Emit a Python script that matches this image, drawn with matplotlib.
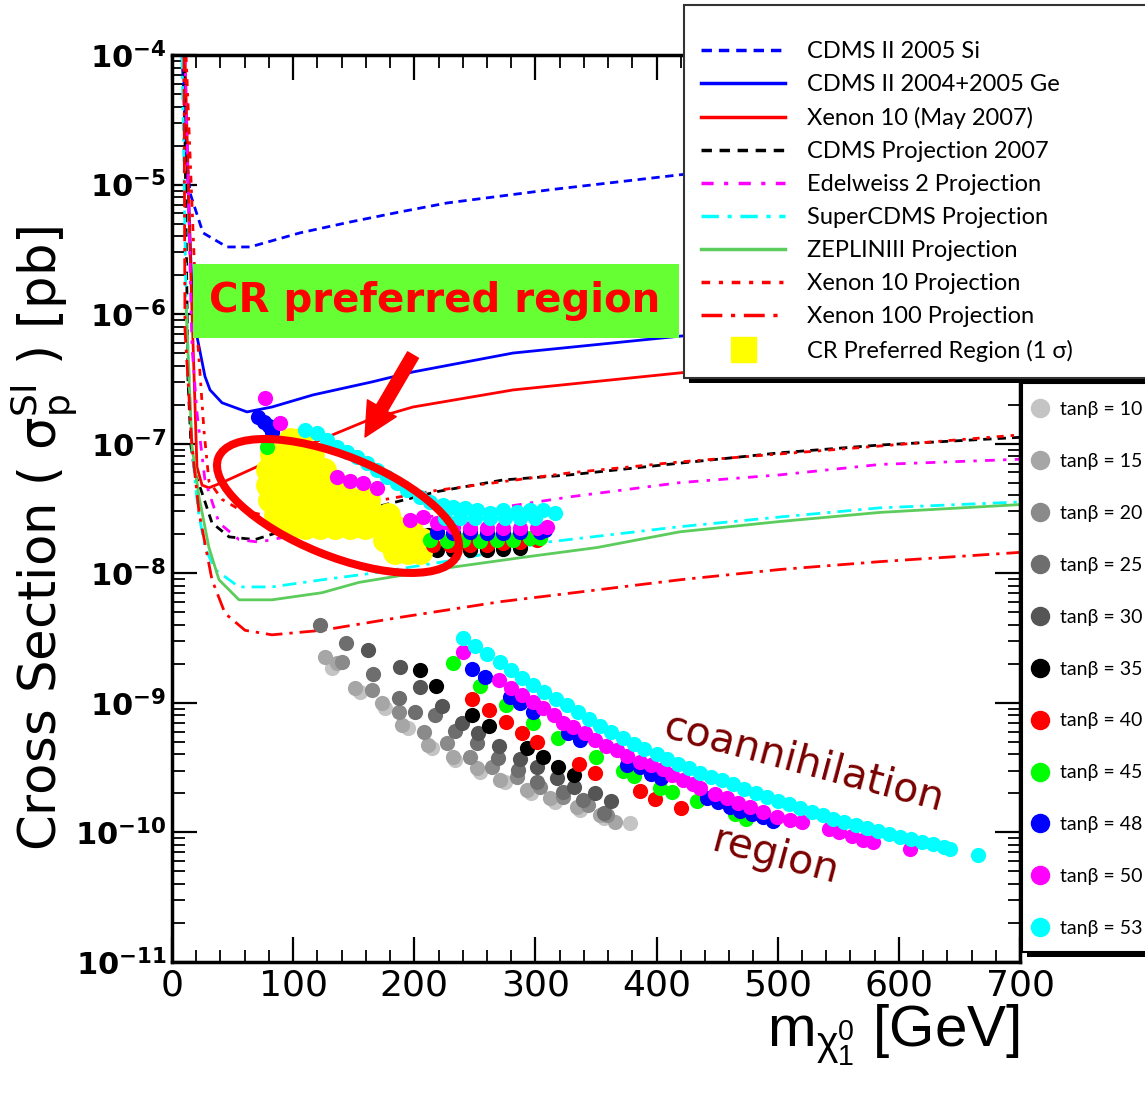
import numpy as np
import matplotlib.pyplot as plt
from matplotlib.lines import Line2D
from matplotlib.patches import Rectangle, Ellipse
from matplotlib.ticker import FuncFormatter, FixedLocator, MultipleLocator, NullFormatter
from matplotlib.transforms import ScaledTranslation

# ===== limit / projection curves: neutralino mass [GeV] vs sigma_SI [pb] =====
cdms_si_m = [8.3, 11.6, 14.9, 25.6, 45.4, 64.4, 105.7, 146.9, 188.2, 227, 312, 419.3, 560, 700]
cdms_si_s = [1e-4, 1.86e-5, 8.6e-6, 4.24e-6, 3.30e-6, 3.30e-6, 4.24e-6, 5.14e-6, 6.15e-6, 7.21e-6,
             9.12e-6, 1.19e-5, 1.62e-5, 2.19e-5]

cdms_ge_m = [9.1, 13.2, 17.3, 22.3, 27.2, 31.4, 41.3, 61.9, 82.5, 116.4, 165.1, 198.9, 281.5, 419.3, 560, 700]
cdms_ge_s = [1e-4, 1.02e-5, 9.55e-7, 5.62e-7, 3.31e-7, 2.60e-7, 2.07e-7, 1.76e-7, 1.92e-7, 2.38e-7,
             3.00e-7, 3.58e-7, 5.01e-7, 6.76e-7, 8.91e-7, 1.15e-6]

xe10_m = [10.7, 14.9, 20.6, 24.8, 30.5, 41.3, 82.5, 162.6, 198.9, 281.5, 419.3, 560, 700]
xe10_s = [1e-4, 3.16e-6, 6.61e-8, 4.79e-8, 4.57e-8, 5.01e-8, 7.50e-8, 1.53e-7, 1.92e-7, 2.60e-7,
          3.52e-7, 4.68e-7, 6.03e-7]

cdms_proj_m = [9.9, 13.2, 15.7, 19.0, 24.8, 33.0, 47.1, 68.5, 82.5, 109.8, 163.4, 218.8, 273.2, 328.5,
               419.3, 501.9, 584.4, 700]
cdms_proj_s = [1e-4, 3.09e-7, 9.55e-8, 5.89e-8, 4.17e-8, 2.45e-8, 1.91e-8, 1.82e-8, 2.00e-8, 2.45e-8,
               3.16e-8, 4.27e-8, 5.25e-8, 5.75e-8, 7.08e-8, 8.51e-8, 9.77e-8, 1.12e-7]

edw_m = [10.7, 16.5, 20.6, 27.2, 38.8, 55.3, 71.8, 109.8, 154.4, 190.7, 273.2, 328.5, 419.3, 501.9, 584.4, 700]
edw_s = [1e-4, 5.62e-7, 1.74e-7, 5.25e-8, 2.45e-8, 1.82e-8, 1.74e-8, 2.04e-8, 2.34e-8, 2.57e-8,
         3.24e-8, 3.89e-8, 5.01e-8, 5.75e-8, 6.92e-8, 7.59e-8]

scdms_m = [8.3, 11.6, 16.5, 21.5, 27.2, 35.5, 55.3, 82.5, 123.8, 165.1, 227, 309.6, 419.3, 501.9, 584.4, 700]
scdms_s = [1e-4, 1.29e-6, 8.91e-8, 3.09e-8, 1.58e-8, 1.07e-8, 7.85e-9, 7.85e-9, 8.91e-9, 1.0e-8,
           1.24e-8, 1.74e-8, 2.29e-8, 2.72e-8, 3.20e-8, 3.55e-8]

zep_m = [11.6, 16.5, 22.3, 30.5, 38.8, 55.3, 82.5, 123.8, 154.4, 227, 295.5, 350.8, 419.3, 501.9, 584.4, 700]
zep_s = [1.15e-6, 9.55e-8, 3.89e-8, 1.58e-8, 8.91e-9, 6.24e-9, 6.24e-9, 7.08e-9, 8.51e-9, 1.10e-8,
         1.35e-8, 1.58e-8, 2.09e-8, 2.51e-8, 2.95e-8, 3.39e-8]

xe10p_m = [11.6, 20.6, 26.4, 30.5, 41.3, 56.1, 82.5, 136.2, 218.8, 328.5, 419.3, 700]
xe10p_s = [1e-4, 7.59e-7, 1.26e-7, 5.13e-8, 3.72e-8, 3.09e-8, 2.72e-8, 3.20e-8, 4.37e-8, 5.96e-8,
           7.24e-8, 1.17e-7]

xe100_m = [9.9, 10.7, 16.5, 22.3, 33.0, 43.8, 60.3, 82.5, 123.8, 188.2, 270.8, 419.3, 501.9, 584.4, 700]
xe100_s = [1e-4, 7.59e-7, 9.55e-8, 2.95e-8, 8.91e-9, 4.90e-9, 3.63e-9, 3.35e-9, 3.63e-9, 4.57e-9,
           6.03e-9, 8.91e-9, 1.07e-8, 1.23e-8, 1.45e-8]

# ===== CR preferred region (1 sigma) scan points =====
cr_m = [97.4, 105.7,
        82.5, 93.3, 105.7, 115.6,
        79.2, 90.8, 102.4, 113.9, 125.5,
        79.2, 90.8, 102.4, 113.9, 125.5, 137.0,
        80.9, 92.5, 104.0, 115.6, 127.1, 138.7, 150.2, 161.8,
        85.9, 97.4, 109.0, 120.5, 132.1, 143.6, 155.2, 166.8, 178.3,
        97.4, 109.8, 122.2, 134.6, 146.9, 159.3, 171.7, 184.1, 196.5,
        175.8, 186.6, 196.5, 206.4,
        184.1, 194.8, 204.7]
cr_s = [1.07e-7] * 2 + [8.17e-8] * 4 + [6.27e-8] * 5 + [4.81e-8] * 6 + [3.69e-8] * 8 \
    + [2.82e-8] * 9 + [2.28e-8] * 9 + [1.81e-8] * 4 + [1.46e-8] * 3

# ===== mSUGRA scan points per tan(beta) =====
mass_tb10 = [132, 155, 176, 195, 215, 234, 254, 275, 296, 316, 337, 357, 378]
xsec_tb10 = [1.86e-9, 1.22e-9, 9.15e-10, 6.4e-10, 4.5e-10, 3.63e-10, 2.93e-10, 2.46e-10, 2.02e-10,
             1.72e-10, 1.49e-10, 1.30e-10, 1.19e-10]

mass_tb15 = [126, 136, 151, 173, 190, 211, 232, 252, 271, 293, 312, 334, 353, 366]
xsec_tb15 = [2.26e-9, 2.04e-9, 1.31e-9, 1.0e-9, 6.8e-10, 4.74e-10, 3.83e-10, 3.15e-10, 2.55e-10,
             2.13e-10, 1.85e-10, 1.58e-10, 1.37e-10, 1.21e-10]

mass_tb20 = [140, 165, 187, 208, 227, 246, 264, 285, 304, 323, 343, 359]
xsec_tb20 = [2.07e-9, 1.26e-9, 8.5e-10, 5.97e-10, 4.9e-10, 3.83e-10, 3.2e-10, 2.68e-10, 2.25e-10,
             1.88e-10, 1.63e-10, 1.37e-10]

mass_tb25 = [122, 144, 166, 187, 201, 217, 234, 252, 269, 286, 301, 323, 339, 357]
xsec_tb25 = [4.0e-9, 2.9e-9, 1.67e-9, 1.09e-9, 8.5e-10, 8.1e-10, 6.1e-10, 4.9e-10, 3.77e-10, 3.04e-10,
             2.46e-10, 2.06e-10, 1.78e-10, 1.42e-10]

mass_tb30 = [162, 188, 205, 223, 239, 253, 270, 287, 301, 318, 332, 349, 362]
xsec_tb30 = [2.56e-9, 1.90e-9, 1.33e-9, 9.5e-10, 7.0e-10, 5.87e-10, 4.66e-10, 3.7e-10, 3.2e-10,
             2.64e-10, 2.25e-10, 2.02e-10, 1.75e-10]

mass_tb35 = [80.9, 211.3, 218.8, 232.0, 246.0, 260.0, 273.2, 287.3,
             205, 218, 248, 262, 293, 306, 319, 332]
xsec_tb35 = [4.64e-8, 1.98e-8, 1.52e-8, 1.52e-8, 1.52e-8, 1.52e-8, 1.55e-8, 1.58e-8,
             1.80e-9, 1.35e-9, 8.1e-10, 6.64e-10, 4.5e-10, 3.83e-10, 3.2e-10, 2.78e-10]

mass_tb40 = [215.4, 229.5, 246.0, 260.0, 273.2, 287.3, 301.3,
             248, 262, 276, 289, 301, 336, 349, 386, 399, 420]
xsec_tb40 = [1.66e-8, 1.66e-8, 1.66e-8, 1.66e-8, 1.70e-8, 1.73e-8, 1.81e-8,
             1.07e-9, 8.8e-10, 7.1e-10, 5.87e-10, 5.0e-10, 3.38e-10, 2.88e-10, 2.09e-10, 1.81e-10, 1.55e-10]

mass_tb45 = [78.4, 213.0, 227.0, 240.2, 254.3, 268.3, 281.5, 295.5, 303.8,
             232, 254, 276, 298, 319, 350, 372, 381, 403, 413, 433, 465, 474]
xsec_tb45 = [9.45e-8, 1.81e-8, 1.76e-8, 1.81e-8, 1.76e-8, 1.81e-8, 1.81e-8, 1.86e-8, 1.86e-8,
             2.04e-9, 1.35e-9, 9.66e-10, 7.0e-10, 5.37e-10, 3.83e-10, 2.98e-10, 2.74e-10, 2.21e-10,
             2.06e-10, 1.75e-10, 1.39e-10, 1.27e-10]

mass_tb48 = [71.0, 75.9, 80.1, 82.5, 218.8, 232.0, 246.0, 260.0, 273.2, 287.3, 303.8, 307.9,
             248, 258, 279, 287, 298, 327, 337, 376, 386, 395, 404, 442, 451, 461, 469, 479, 488, 496]
xsec_tb48 = [1.61e-7, 1.47e-7, 1.38e-7, 1.23e-7, 2.09e-8, 2.05e-8, 2.09e-8, 2.05e-8, 2.05e-8, 2.09e-8,
             2.09e-8, 2.16e-8,
             1.83e-9, 1.59e-9, 1.11e-9, 1.0e-9, 8.5e-10, 5.87e-10, 5.18e-10, 3.3e-10, 3.2e-10, 2.83e-10,
             2.64e-10, 1.85e-10, 1.72e-10, 1.58e-10, 1.47e-10, 1.39e-10, 1.32e-10, 1.23e-10]

mass_tb50 = [76.8, 89.2, 136.2, 146.9, 157.7, 169.2, 196.5, 207.2, 218.8, 225.4, 232.0, 246.0, 260.0,
             273.2, 287.3, 301.3, 309.6,
             240, 270, 280, 289, 298, 306, 315, 323, 331, 341, 349, 358, 367, 376, 386, 395, 405, 413,
             422, 430, 436, 448, 458, 467, 477, 488, 499, 510, 520, 542, 551, 561, 570, 579, 609]
xsec_tb50 = [2.26e-7, 1.45e-7, 5.54e-8, 5.2e-8, 4.98e-8, 4.56e-8, 2.58e-8, 2.72e-8, 2.45e-8, 2.5e-8,
             2.28e-8, 2.24e-8, 2.24e-8, 2.24e-8, 2.24e-8, 2.24e-8, 2.28e-8,
             2.47e-9, 1.51e-9, 1.31e-9, 1.15e-9, 1.02e-9, 9.15e-10, 8.1e-10, 7.0e-10, 6.5e-10, 5.87e-10,
             5.18e-10, 4.66e-10, 4.33e-10, 3.9e-10, 3.5e-10, 3.3e-10, 3.1e-10, 2.78e-10, 2.55e-10,
             2.37e-10, 2.21e-10, 1.98e-10, 1.85e-10, 1.69e-10, 1.58e-10, 1.44e-10, 1.32e-10, 1.25e-10,
             1.21e-10, 1.07e-10, 1.01e-10, 9.4e-11, 8.75e-11, 8.46e-11, 7.45e-11]

mass_tb53 = [109.8, 119.7, 128.0, 136.2, 144.5, 152.7, 161.0, 169.2, 177.5, 185.7, 194.0, 204.7, 213.0,
             223.7, 232.0, 241.9, 251.8, 262.5, 273.2, 284.8, 295.5, 306.3, 316.2,
             225.4, 237.7, 250.1, 262.5, 274.9, 287.3, 299.7,
             240, 250, 260, 271, 280, 289, 298, 307, 317, 326, 335, 344, 353, 362, 372, 381, 390, 400,
             409, 418, 427, 436, 445, 454, 463, 472, 482, 491, 500, 509, 518, 528, 537, 546, 555, 565,
             574, 583, 592, 601, 610, 619, 628, 637, 642, 665]
xsec_tb53 = [1.28e-7, 1.21e-7, 1.07e-7, 9.45e-8, 8.63e-8, 7.9e-8, 7.1e-8, 6.27e-8, 5.54e-8, 4.98e-8,
             4.4e-8, 3.89e-8, 3.56e-8, 3.37e-8, 3.25e-8, 3.2e-8, 3.08e-8, 2.92e-8, 3.08e-8, 2.97e-8,
             3.08e-8, 3.08e-8, 2.92e-8,
             2.66e-8, 2.66e-8, 2.66e-8, 2.66e-8, 2.66e-8, 2.66e-8, 2.66e-8,
             3.17e-9, 2.76e-9, 2.39e-9, 2.07e-9, 1.80e-9, 1.56e-9, 1.38e-9, 1.22e-9, 1.07e-9, 9.66e-10,
             8.5e-10, 7.5e-10, 6.6e-10, 6.0e-10, 5.4e-10, 4.8e-10, 4.4e-10, 4.0e-10, 3.7e-10, 3.4e-10,
             3.15e-10, 2.9e-10, 2.7e-10, 2.55e-10, 2.37e-10, 2.17e-10, 2.02e-10, 1.88e-10, 1.75e-10,
             1.66e-10, 1.55e-10, 1.44e-10, 1.37e-10, 1.27e-10, 1.21e-10, 1.14e-10, 1.09e-10, 1.03e-10,
             9.8e-11, 9.2e-11, 8.9e-11, 8.5e-11, 8.1e-11, 7.7e-11, 7.5e-11, 6.7e-11]

tb_labels = ['10', '15', '20', '25', '30', '35', '40', '45', '48', '50', '53']
tb_colors = ['#c4c4c4', '#a6a6a6', '#8a8a8a', '#6e6e6e', '#555555', '#000000',
             '#ff0000', '#00ff00', '#0000ff', '#ff00ff', '#00ffff']

y_decades = [-11, -10, -9, -8, -7, -6, -5, -4]

W, H = 1145, 1100
fig = plt.figure(figsize=(W / 100, H / 100), dpi=100)
ax = fig.add_axes([172 / W, 1 - 962 / H, 848 / W, 907 / H])
ax.set_yscale('log')
ax.set_xlim(0, 700)
ax.set_ylim(1e-11, 1e-4)

lw = 2.0
curves = [
    (cdms_si_m, cdms_si_s, '#0000ff', (0, (3, 2)), 'CDMS II 2005 Si'),
    (cdms_ge_m, cdms_ge_s, '#0000ff', '-', 'CDMS II 2004+2005 Ge'),
    (xe10_m, xe10_s, '#ff0000', '-', 'Xenon 10 (May 2007)'),
    (cdms_proj_m, cdms_proj_s, '#000000', (0, (3, 2.2)), 'CDMS Projection 2007'),
    (edw_m, edw_s, '#ff00ff', (0, (3.5, 3, 1.2, 3)), 'Edelweiss 2 Projection'),
    (scdms_m, scdms_s, '#00ffff', (0, (5, 2.5, 1.2, 2.5)), 'SuperCDMS Projection'),
    (zep_m, zep_s, '#5ccc5c', '-', 'ZEPLINIII Projection'),
    (xe10p_m, xe10p_s, '#ff0000', (0, (2.5, 2.5, 1.2, 2.5)), 'Xenon 10 Projection'),
    (xe100_m, xe100_s, '#ff0000', (0, (6, 2.5, 1.2, 2.5)), 'Xenon 100 Projection'),
]
handles, labels = [], []
for m, s, c, ls, lab in curves:
    h, = ax.plot(m, s, color=c, ls=ls, lw=lw, zorder=2)
    handles.append(h)
    labels.append(lab)

# scan points: grays under the yellow region, colours on top
tb_mass = [mass_tb10, mass_tb15, mass_tb20, mass_tb25, mass_tb30, mass_tb35,
           mass_tb40, mass_tb45, mass_tb48, mass_tb50, mass_tb53]
tb_xsec = [xsec_tb10, xsec_tb15, xsec_tb20, xsec_tb25, xsec_tb30, xsec_tb35,
           xsec_tb40, xsec_tb45, xsec_tb48, xsec_tb50, xsec_tb53]
for i, (m, s, c) in enumerate(zip(tb_mass, tb_xsec, tb_colors)):
    ax.scatter(m, s, s=120, c=c, linewidths=0, zorder=3 if i < 6 else 5)
ax.scatter(cr_m, cr_s, s=320, c='#ffff00', linewidths=0, zorder=4)

handles.append(Line2D([], [], ls='none', marker='s', ms=18, mfc='#ffff00', mec='#ffff00'))
labels.append('CR Preferred Region (1 σ)')

# axes styling
for sp in ax.spines.values():
    sp.set_linewidth(2.5)
ax.xaxis.set_major_locator(MultipleLocator(100))
ax.xaxis.set_minor_locator(MultipleLocator(20))
ax.yaxis.set_major_locator(FixedLocator([10.0 ** d for d in y_decades]))
ax.yaxis.set_minor_locator(FixedLocator([k * 10.0 ** d for d in y_decades[:-1] for k in range(2, 10)]))
ax.yaxis.set_minor_formatter(NullFormatter())
ax.yaxis.set_major_formatter(FuncFormatter(lambda v, p: r'$\mathbf{10^{%d}}$' % round(np.log10(v))))
ax.tick_params(which='both', direction='in', top=True, right=True)
ax.tick_params(which='major', length=18, width=1.6)
ax.tick_params(which='minor', length=9, width=1.3)
ax.tick_params(axis='y', labelsize=22, pad=4)
ax.tick_params(axis='x', labelsize=26, pad=5, labelfontfamily='Liberation Sans Narrow')

ax.set_ylabel(r'Cross Section ( $\mathregular{\sigma_p^{SI}}$ ) [pb]',
              fontsize=37, family='Liberation Sans Narrow')
ax.yaxis.set_label_coords(-0.108, 0.467)
ax.set_xlabel(r'$\mathregular{m_{\chi^0_1}}$ [GeV]', fontsize=42, family='Liberation Sans', loc='right',
              labelpad=0)

# annotations
ax.add_patch(Rectangle((0.0248, 0.688), 0.5731, 0.0816, transform=ax.transAxes,
                       fc='#66ff33', ec='none', zorder=7))
ax.text(0.310, 0.729, 'CR preferred region', transform=ax.transAxes, ha='center', va='center',
        color='#ff0000', fontsize=29, fontweight='bold', family='DejaVu Sans', zorder=8)
ax.annotate('', xy=(0.2276, 0.5788), xytext=(0.2842, 0.6692), xycoords='axes fraction',
            arrowprops=dict(arrowstyle='simple,head_length=1.2,head_width=1.2,tail_width=0.45',
                            color='#ff0000', mutation_scale=20, shrinkA=0, shrinkB=0), zorder=8)
fig.add_artist(Ellipse((0, 0), 2.58, 1.00, angle=-22, fill=False, ec='#ff0000', lw=5.8, zorder=3,
                       transform=fig.dpi_scale_trans + ScaledTranslation(0.1958, 0.5028, ax.transAxes)))

ax.text(0.745, 0.219, 'coannihilation', transform=ax.transAxes, rotation=-15, rotation_mode='anchor',
        ha='center', va='center', color='#7a0000', fontsize=29.5, zorder=8)
ax.text(0.711, 0.116, 'region', transform=ax.transAxes, rotation=-15, rotation_mode='anchor',
        ha='center', va='center', color='#7a0000', fontsize=29.5, zorder=8)

# legend boxes with drop shadow
fig.add_artist(Rectangle((689 / W, 1 - 383 / H), 480 / W, 373 / H, fc='black', ec='none', zorder=4.8))
fig.add_artist(Rectangle((684 / W, 1 - 378 / H), 480 / W, 373 / H, fc='white', ec='#333333', lw=1.5,
                         zorder=4.9))
fig.add_artist(Rectangle((1027 / W, 1 - 957 / H), 200 / W, 569 / H, fc='black', ec='none', zorder=4.8))
fig.add_artist(Rectangle((1022 / W, 1 - 952 / H), 200 / W, 569 / H, fc='white', ec='black', lw=1.5,
                         zorder=4.9))

leg1 = fig.legend(handles, labels, loc='upper left', bbox_to_anchor=(701 / W, 1 - 41 / H),
                  frameon=False, borderpad=0, borderaxespad=0, handlelength=3.56, handletextpad=0.93,
                  labelspacing=0.51, prop=dict(family=['Lato', 'DejaVu Sans'], size=17))
leg1.set_zorder(6)
for ln in leg1.get_lines():
    ln.set_linewidth(2.5)

tb_handles = [Line2D([], [], ls='none', marker='o', ms=13, mfc=c, mec=c) for c in tb_colors]
leg2 = fig.legend(tb_handles, ['tanβ = ' + t for t in tb_labels], loc='upper left',
                  bbox_to_anchor=(1032 / W, 1 - 401 / H), frameon=False, borderpad=0, borderaxespad=0,
                  handlelength=0.8, handletextpad=0.62, labelspacing=1.795,
                  prop=dict(family=['Lato', 'DejaVu Sans'], size=14))
leg2.set_zorder(6)

fig.savefig('out.png', dpi=100, facecolor='white')
